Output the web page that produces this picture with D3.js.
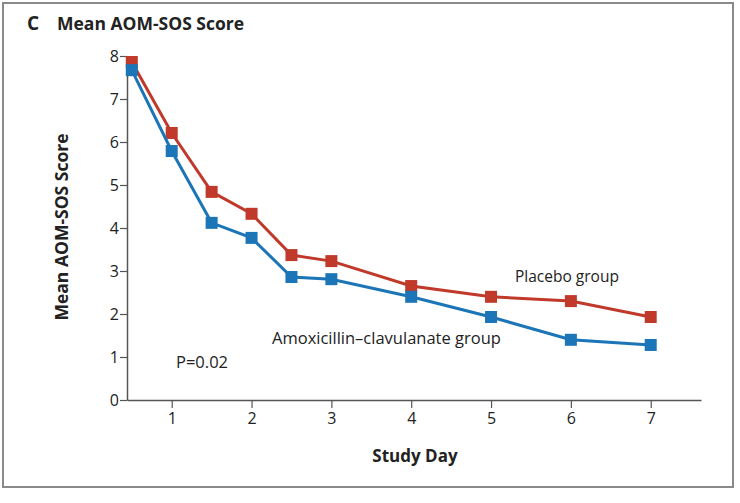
<!DOCTYPE html>
<html>
<head>
<meta charset="utf-8">
<script src="https://cdn.jsdelivr.net/npm/d3@7"></script>
<style>
  body { margin: 0; background: #fff; }
  text { font-family: "Open Sans", "Noto Sans", sans-serif; fill: #222; }
</style>
</head>
<body>
<div id="chart"></div>
<script>
var svgWidth = 740;
var svgHeight = 503;

// study days and mean scores
var days = [0.5, 1, 1.5, 2, 2.5, 3, 4, 5, 6, 7];
var placebo = [7.86, 6.21, 4.84, 4.33, 3.37, 3.23, 2.65, 2.40, 2.30, 1.93];
var amoxicillin = [7.67, 5.79, 4.12, 3.77, 2.86, 2.81, 2.40, 1.93, 1.40, 1.28];
var xTicks = [1, 2, 3, 4, 5, 6, 7];
var yTicks = [0, 1, 2, 3, 4, 5, 6, 7, 8];

var margin = { top: 56, left: 127, right: 39, bottom: 103 };

var svg = d3.select("#chart")
            .append("svg")
            .attr("width", svgWidth)
            .attr("height", svgHeight);

// frame
svg.append("rect")
   .attr("x", 3).attr("y", 3)
   .attr("width", 730).attr("height", 484)
   .attr("fill", "none")
   .attr("stroke", "#8a8a8a")
   .attr("stroke-width", 2);

svg.append("text")
   .attr("x", 27).attr("y", 30)
   .style("font-size", "19px").style("font-weight", "bold")
   .text("C");

svg.append("text")
   .attr("x", 57).attr("y", 30)
   .style("font-size", "17.5px").style("font-weight", "bold")
   .text("Mean AOM-SOS Score");

var x = d3.scaleLinear().domain([0.44, 7.63]).range([margin.left, svgWidth - margin.right]);
var y = d3.scaleLinear().domain([0, 8]).range([svgHeight - margin.bottom, margin.top]);

var xAxis = svg.append("g")
   .attr("transform", `translate(0, ${y(0)})`)
   .call(d3.axisBottom(x).tickValues(xTicks).tickSize(8).tickPadding(5).tickSizeOuter(0));

var yAxis = svg.append("g")
   .attr("transform", `translate(${margin.left}, 0)`)
   .call(d3.axisLeft(y).tickValues(yTicks).tickSize(7).tickPadding(1).tickSizeOuter(0));

[xAxis, yAxis].forEach(function(g) {
  g.select(".domain").attr("stroke", "#555").attr("stroke-width", 1.5);
  g.selectAll(".tick line").attr("stroke", "#555").attr("stroke-width", 1.2);
  g.selectAll(".tick text")
   .style("font-family", "'Open Sans', sans-serif")
   .style("font-size", "16px")
   .attr("fill", "#333");
});

svg.append("text")
   .attr("transform", "rotate(-90)")
   .attr("x", -227).attr("y", 68)
   .attr("text-anchor", "middle")
   .style("font-size", "17.5px").style("font-weight", "bold")
   .text("Mean AOM-SOS Score");

svg.append("text")
   .attr("x", 415).attr("y", 462)
   .attr("text-anchor", "middle")
   .style("font-size", "17px").style("font-weight", "bold")
   .text("Study Day");

var series = [
  { values: placebo, color: "#c0392b" },
  { values: amoxicillin, color: "#1b75b6" }
];

var line = d3.line()
   .x(function(d) { return x(d[0]); })
   .y(function(d) { return y(d[1]); });

series.forEach(function(s) {
  var pts = days.map(function(d, i) { return [d, s.values[i]]; });
  svg.append("path")
     .datum(pts)
     .attr("fill", "none")
     .attr("stroke", s.color)
     .attr("stroke-width", 3)
     .attr("d", line);
  svg.selectAll(null)
     .data(pts)
     .enter()
     .append("rect")
     .attr("x", function(d) { return x(d[0]) - 6; })
     .attr("y", function(d) { return y(d[1]) - 6; })
     .attr("width", 12).attr("height", 12)
     .attr("fill", s.color);
});

svg.append("text")
   .attr("x", 515).attr("y", 282)
   .style("font-size", "15.5px")
   .attr("fill", "#333")
   .text("Placebo group");

svg.append("text")
   .attr("x", 272).attr("y", 344)
   .style("font-size", "16.5px")
   .attr("fill", "#333")
   .text("Amoxicillin–clavulanate group");

svg.append("text")
   .attr("x", 176).attr("y", 368)
   .style("font-size", "16.5px")
   .attr("fill", "#333")
   .text("P=0.02");
</script>
</body>
</html>
